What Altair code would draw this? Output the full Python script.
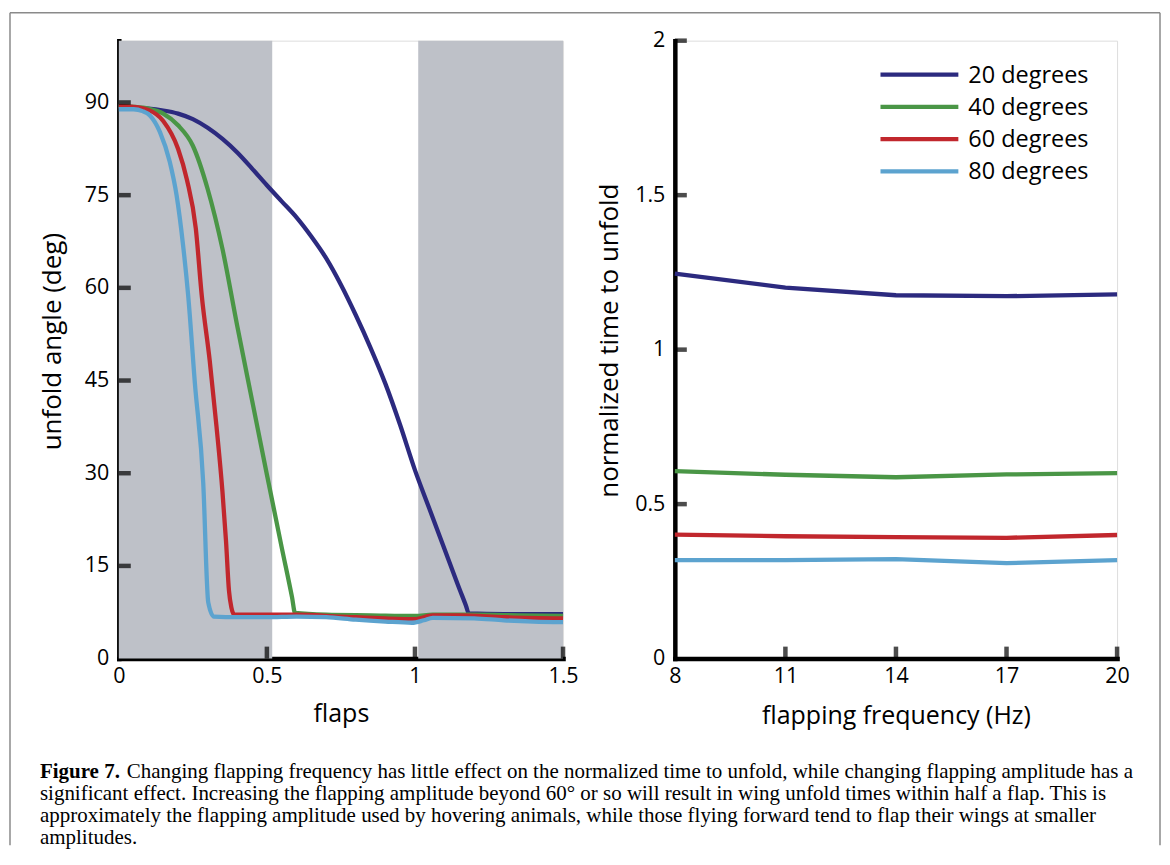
import altair as alt
import pandas as pd

# ---------------- data ----------------
series_names = ["20 degrees", "40 degrees", "60 degrees", "80 degrees"]
series_colors = ["#2c2a7f", "#4a9646", "#c1272d", "#5ca3cf"]

# left panel: unfold angle (deg) vs flaps
flaps_20 = [0, 0.05, 0.1, 0.15, 0.2, 0.25, 0.3, 0.35, 0.4, 0.45, 0.5, 0.55, 0.6, 0.65, 0.7,
            0.75, 0.8, 0.85, 0.9, 0.95, 1.0, 1.05, 1.1, 1.15, 1.172, 1.182, 1.3, 1.5]
angle_20 = [89.2, 89.1, 89.0, 88.7, 88.2, 87.3, 85.9, 84.1, 81.9, 79.3, 76.6, 74.0, 71.4, 68.3, 64.8,
            60.5, 55.6, 50.3, 44.5, 37.8, 30.5, 24.1, 17.7, 11.3, 8.6, 7.3, 7.2, 7.2]

flaps_40 = [0, 0.05, 0.1, 0.15, 0.2, 0.25, 0.3, 0.35, 0.4, 0.45, 0.5, 0.55, 0.585, 0.595, 0.7, 0.85,
            1.0, 1.06, 1.2, 1.35, 1.5]
angle_40 = [89.4, 89.3, 89.0, 88.2, 86.3, 83.0, 76.0, 66.3, 53.8, 41.8, 29.8, 18.0, 9.9, 7.4, 7.1, 7.0,
            6.9, 7.1, 7.1, 7.0, 6.9]

flaps_60 = [0, 0.05, 0.1, 0.15, 0.2, 0.23, 0.26, 0.28, 0.307, 0.33, 0.35, 0.362, 0.372, 0.38, 0.39,
            0.5, 0.6, 0.75, 0.9, 1.0, 1.06, 1.15, 1.3, 1.5]
angle_60 = [89.4, 89.3, 88.8, 87.0, 82.5, 77.5, 69.6, 58.8, 48.2, 37.5, 27.0, 19.0, 11.0, 8.3, 7.1,
            7.1, 7.1, 6.8, 6.5, 6.4, 7.0, 7.0, 6.7, 6.5]

flaps_80 = [0, 0.05, 0.08, 0.105, 0.139, 0.172, 0.195, 0.217, 0.234, 0.257, 0.285, 0.302, 0.321,
            0.4, 0.5, 0.6, 0.7, 0.8, 0.9, 0.99, 1.03, 1.06, 1.2, 1.3, 1.4, 1.5]
angle_80 = [88.9, 88.9, 88.6, 87.9, 85.2, 80.4, 75.0, 66.9, 58.9, 44.5, 28.5, 9.1, 6.8,
            6.7, 6.7, 6.8, 6.7, 6.3, 6.0, 5.8, 6.2, 6.6, 6.5, 6.2, 6.0, 5.9]

# shaded half-flaps
band_start = [0, 1.011]
band_end = [0.518, 1.5]

# right panel: normalized time to unfold vs flapping frequency
freq_hz = [8, 11, 14, 17, 20]
time_20 = [1.246, 1.201, 1.176, 1.173, 1.179]
time_40 = [0.607, 0.595, 0.587, 0.596, 0.600]
time_60 = [0.401, 0.396, 0.393, 0.391, 0.400]
time_80 = [0.319, 0.319, 0.322, 0.309, 0.319]

# axes
left_x_labels = [0, 0.5, 1, 1.5]
left_y_labels = [0, 15, 30, 45, 60, 75, 90]
left_x_ticks = [0.5, 1, 1.5]
left_y_ticks = [15, 30, 45, 60, 75, 90]
right_x_labels = [8, 11, 14, 17, 20]
right_y_labels = [0, 0.5, 1, 1.5, 2]
right_x_ticks = [11, 14, 17, 20]
right_y_ticks = [0.5, 1, 1.5, 2]

caption_bold = "Figure 7."
caption_lines = [
    "Changing flapping frequency has little effect on the normalized time to unfold, while changing flapping amplitude has a",
    "significant effect. Increasing the flapping amplitude beyond 60\u00b0 or so will result in wing unfold times within half a flap. This is",
    "approximately the flapping amplitude used by hovering animals, while those flying forward tend to flap their wings at smaller",
    "amplitudes.",
]

# ---------------- tables ----------------
rows = []
for name, xs_, ys_ in zip(series_names, [flaps_20, flaps_40, flaps_60, flaps_80],
                          [angle_20, angle_40, angle_60, angle_80]):
    for i, (a, b) in enumerate(zip(xs_, ys_)):
        rows.append({"series": name, "flaps": a, "angle": b, "idx": i})
left_df = pd.DataFrame(rows)

rows = []
for name, ts in zip(series_names, [time_20, time_40, time_60, time_80]):
    for i, (f, t) in enumerate(zip(freq_hz, ts)):
        rows.append({"series": name, "freq": f, "time": t, "idx": i})
right_df = pd.DataFrame(rows)

band_df = pd.DataFrame({"start": band_start, "end": band_end})

# ---------------- styling ----------------
FONT = "Open Sans"
AX_W = 4.5
W_LEFT, W_RIGHT, H = 445, 443, 619
LINE_W = 4.3

color_scale = alt.Scale(domain=series_names, range=series_colors)

ax_common = dict(domainColor="black", domainWidth=AX_W, domainCap="square", ticks=False,
                 tickSize=0, grid=False, labelFont=FONT, labelFontSize=21.5, labelColor="black",
                 titleFont=FONT, titleFontWeight="normal", titleColor="black",
                 labelExpr="'' + datum.value", labelFlush=False, labelOverlap=False)

x_axis_left = alt.Axis(values=left_x_labels, title="flaps", labelPadding=7, titlePadding=15,
                       titleFontSize=25, **ax_common)
y_axis_left = alt.Axis(values=left_y_labels, title="unfold angle (deg)", labelPadding=10,
                       titlePadding=19, titleFontSize=26, titleY=301, **ax_common)
x_axis_right = alt.Axis(values=right_x_labels, title="flapping frequency (Hz)", labelPadding=7,
                        titlePadding=17, titleFontSize=25, **ax_common)
y_axis_right = alt.Axis(values=right_y_labels, title="normalized time to unfold", labelPadding=10,
                        titlePadding=12, titleFontSize=26, titleY=300, **ax_common)

xs_left = alt.Scale(domain=[0, 1.5], nice=False, zero=False)
ys_left = alt.Scale(domain=[0, 100], nice=False)
xs_right = alt.Scale(domain=[8, 20], nice=False, zero=False)
ys_right = alt.Scale(domain=[0, 2], nice=False)

one = pd.DataFrame({"k": [0]})

# ---------------- left panel ----------------
bands = alt.Chart(band_df).mark_rect(color="#bec1c8").encode(
    x=alt.X("start:Q", scale=xs_left, axis=x_axis_left),
    x2="end:Q",
    y=alt.Y(datum=0, scale=ys_left, axis=y_axis_left),
    y2=alt.Y2(datum=100),
)

lines_left = alt.Chart(left_df).mark_line(strokeWidth=LINE_W, strokeJoin="round",
                                          interpolate="monotone").encode(
    x=alt.X("flaps:Q", scale=xs_left, axis=x_axis_left),
    y=alt.Y("angle:Q", scale=ys_left, axis=y_axis_left),
    color=alt.Color("series:N", scale=color_scale, legend=None),
    order="idx:Q",
)

yticks_left = alt.Chart(pd.DataFrame({"v": left_y_ticks})).mark_tick(
    orient="horizontal", size=12, thickness=AX_W, color="black", xOffset=6).encode(
    y=alt.Y("v:Q", scale=ys_left, axis=y_axis_left),
    x=alt.X(datum=0, scale=xs_left, axis=x_axis_left),
)
xticks_left = alt.Chart(pd.DataFrame({"v": left_x_ticks})).mark_tick(
    orient="vertical", size=12, thickness=AX_W, color="black", yOffset=-6).encode(
    x=alt.X("v:Q", scale=xs_left, axis=x_axis_left),
    y=alt.Y(datum=0, scale=ys_left, axis=y_axis_left),
)

# figure frame (decoration), relative to the left plot origin
FR_L, FR_T, FR_R, FR_B = -109, -28, 1043, 806
frame = [
    alt.Chart(one).mark_rule(color="#8a8a8a", strokeWidth=1.5).encode(
        x=alt.value(FR_L), y=alt.value(FR_T), y2=alt.value(FR_B)),
    alt.Chart(one).mark_rule(color="#8a8a8a", strokeWidth=1.5).encode(
        x=alt.value(FR_R), y=alt.value(FR_T), y2=alt.value(FR_B)),
    alt.Chart(one).mark_rule(color="#8a8a8a", strokeWidth=1.5).encode(
        x=alt.value(FR_L), x2=alt.value(FR_R), y=alt.value(FR_T)),
]

# caption
CAP_FONT = "Liberation Serif"
CAP_SIZE = 21
cap_x0, cap_y0, cap_dy = -79, 733, 21.8
caption = [
    alt.Chart(one).mark_text(text=caption_bold, font=CAP_FONT, fontSize=CAP_SIZE, fontWeight="bold",
                             align="left", baseline="middle", color="black").encode(
        x=alt.value(cap_x0), y=alt.value(cap_y0)),
]
for i, line in enumerate(caption_lines):
    xoff = cap_x0 + (87 if i == 0 else 0)
    caption.append(
        alt.Chart(one).mark_text(text=line, font=CAP_FONT, fontSize=CAP_SIZE, align="left",
                                 baseline="middle", color="black").encode(
            x=alt.value(xoff), y=alt.value(cap_y0 + i * cap_dy)))

left = alt.layer(bands, lines_left, yticks_left, xticks_left, *frame, *caption).properties(
    width=W_LEFT, height=H)

# ---------------- right panel ----------------
lines_right = alt.Chart(right_df).mark_line(strokeWidth=LINE_W, strokeJoin="round").encode(
    x=alt.X("freq:Q", scale=xs_right, axis=x_axis_right),
    y=alt.Y("time:Q", scale=ys_right, axis=y_axis_right),
    color=alt.Color("series:N", scale=color_scale, legend=None),
    order="idx:Q",
)
yticks_right = alt.Chart(pd.DataFrame({"v": right_y_ticks})).mark_tick(
    orient="horizontal", size=12, thickness=AX_W, color="black", xOffset=6).encode(
    y=alt.Y("v:Q", scale=ys_right, axis=y_axis_right),
    x=alt.X(datum=8, scale=xs_right, axis=x_axis_right),
)
xticks_right = alt.Chart(pd.DataFrame({"v": right_x_ticks})).mark_tick(
    orient="vertical", size=12, thickness=AX_W, color="black", yOffset=-6).encode(
    x=alt.X("v:Q", scale=xs_right, axis=x_axis_right),
    y=alt.Y(datum=0, scale=ys_right, axis=y_axis_right),
)

legend_layers = []
LG_X0, LG_X1, LG_Y0, LG_DY, LG_TX = 206, 284, 34, 32.3, 294
for i, name in enumerate(series_names):
    ldf = pd.DataFrame({"series": [name]})
    legend_layers.append(
        alt.Chart(ldf).mark_rule(strokeWidth=LINE_W).encode(
            x=alt.value(LG_X0), x2=alt.value(LG_X1), y=alt.value(LG_Y0 + i * LG_DY),
            color=alt.Color("series:N", scale=color_scale, legend=None)))
    legend_layers.append(
        alt.Chart(ldf).mark_text(font=FONT, fontSize=23.5, align="left", baseline="middle",
                                 color="black", dy=1).encode(
            x=alt.value(LG_TX), y=alt.value(LG_Y0 + i * LG_DY), text="series:N"))

right = alt.layer(lines_right, yticks_right, xticks_right, *legend_layers).properties(
    width=W_RIGHT, height=H)

chart = alt.hconcat(left, right, spacing=112, bounds="flush").properties(
    padding={"left": 0, "top": 2, "right": 0, "bottom": 0}
).configure_view(stroke=None).configure(background="white")

chart.save("out.html", embed_options={"renderer": "svg", "actions": False})
